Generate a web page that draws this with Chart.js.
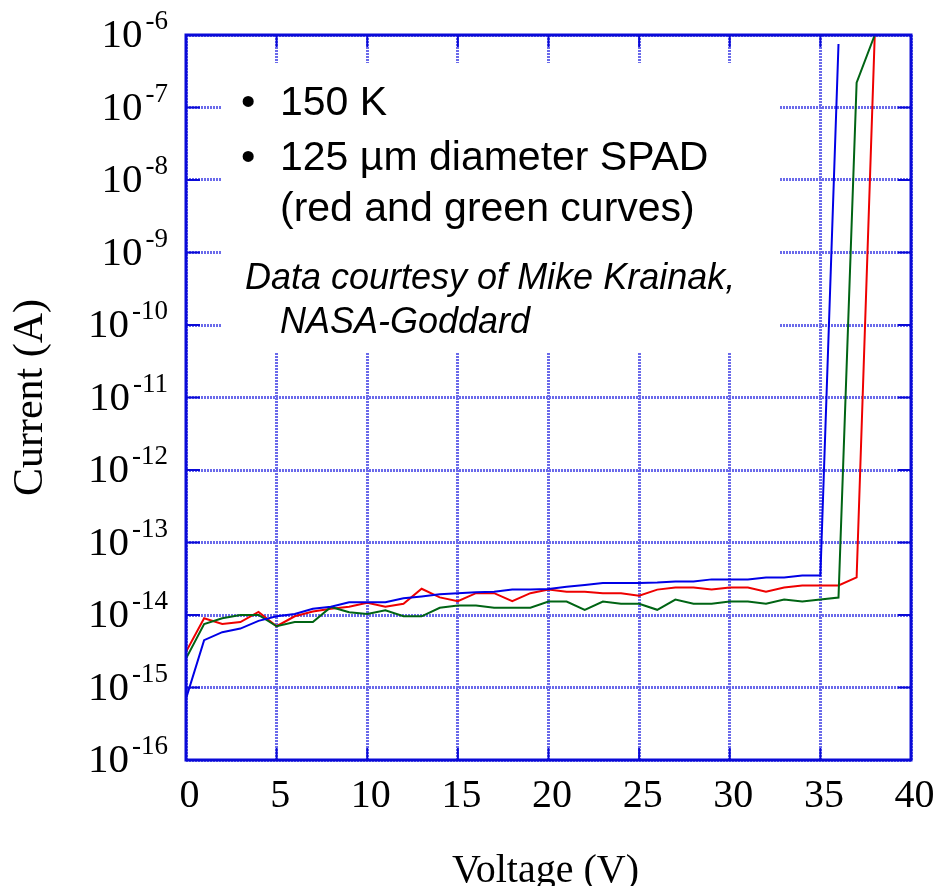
<!DOCTYPE html>
<html><head><meta charset="utf-8">
<script src="https://cdn.jsdelivr.net/npm/chart.js@4/dist/chart.umd.min.js"></script>
<style>html,body{margin:0;padding:0;background:#fff}#wrap{width:935px;height:886px}</style>
</head><body><div id="wrap"><canvas id="c" width="935" height="886"></canvas></div>
<script>
// ---- data ----
const voltage = [0,1,2,3,4,5,6,7,8,9,10,11,12,13,14,15,16,17,18,19,20,21,22,23,24,25,26,27,28,29,30,31,32,33,34,35,36,37,38];
const redCurrent = [3.1e-15,9e-15,7.5e-15,8e-15,1.1e-14,7e-15,9.6e-15,1.12e-14,1.22e-14,1.3e-14,1.47e-14,1.3e-14,1.43e-14,2.3e-14,1.75e-14,1.55e-14,2.0e-14,2.0e-14,1.55e-14,2.0e-14,2.24e-14,2.1e-14,2.1e-14,2.0e-14,2.0e-14,1.85e-14,2.24e-14,2.4e-14,2.4e-14,2.24e-14,2.4e-14,2.4e-14,2.1e-14,2.4e-14,2.55e-14,2.55e-14,2.55e-14,3.3e-14,1e-6];
const greenCurrent = [2.5e-15,7.5e-15,9e-15,1e-14,1e-14,7e-15,8e-15,8e-15,1.29e-14,1.09e-14,1.03e-14,1.16e-14,9.6e-15,9.6e-15,1.26e-14,1.35e-14,1.35e-14,1.26e-14,1.26e-14,1.26e-14,1.53e-14,1.53e-14,1.18e-14,1.53e-14,1.43e-14,1.43e-14,1.18e-14,1.63e-14,1.43e-14,1.43e-14,1.53e-14,1.53e-14,1.43e-14,1.63e-14,1.53e-14,1.63e-14,1.74e-14,2.2e-7,1e-6];
const blueCurrent = [7e-16,4.5e-15,5.8e-15,6.5e-15,8.3e-15,9.6e-15,1.03e-14,1.22e-14,1.3e-14,1.5e-14,1.5e-14,1.5e-14,1.7e-14,1.8e-14,1.93e-14,2.0e-14,2.06e-14,2.1e-14,2.24e-14,2.24e-14,2.29e-14,2.46e-14,2.6e-14,2.77e-14,2.77e-14,2.77e-14,2.8e-14,2.9e-14,2.9e-14,3.1e-14,3.1e-14,3.1e-14,3.3e-14,3.3e-14,3.5e-14,3.5e-14,7.5e-7];
const xTickValues = [0,5,10,15,20,25,30,35,40];
const yTickExponents = [-16,-15,-14,-13,-12,-11,-10,-9,-8,-7,-6];
const xTitle = 'Voltage (V)';
const yTitle = 'Current (A)';
const noteBullets = ['150 K', '125 µm diameter SPAD'];
const noteCont = '(red and green curves)';
const noteCredit = ['Data courtesy of Mike Krainak,', 'NASA-Goddard'];

const pts = arr => arr.map((v,i)=>({x:voltage[i], y:v}));
const SERIF = '"Liberation Serif","Times New Roman",serif';
const SANS = '"Liberation Sans",Arial,sans-serif';
const AXIS = '#0a0ad8';

const decorate = {
  id:'decorate',
  beforeDatasetsDraw(chart){
    const {ctx} = chart;
    ctx.save();
    ctx.fillStyle = '#fff';
    ctx.fillRect(222, 63, 557, 290);
    ctx.restore();
  },
  afterDatasetsDraw(chart){
    const {ctx, chartArea:a, scales:{x, y}} = chart;
    ctx.save();
    ctx.strokeStyle = AXIS; ctx.lineWidth = 2;
    const ln = (x1,y1,x2,y2)=>{ctx.beginPath();ctx.moveTo(x1,y1);ctx.lineTo(x2,y2);ctx.stroke();};
    yTickExponents.forEach(e=>{
      const py = y.getPixelForValue(Math.pow(10,e));
      ln(a.left, py, a.left+14, py);
      ln(a.right, py, a.right-13, py);
    });
    xTickValues.forEach(v=>{
      const px = x.getPixelForValue(v);
      ln(px, a.bottom, px, a.bottom-12);
      ln(px, a.top, px, a.top+12);
    });
    ctx.lineWidth = 3;
    ctx.strokeRect(a.left, a.top, a.right-a.left, a.bottom-a.top);
    ctx.restore();
  },
  afterDraw(chart){
    const {ctx, chartArea:a, scales:{x, y}} = chart;
    ctx.save();
    ctx.fillStyle = '#000';
    // y tick labels 10^n
    yTickExponents.forEach(e=>{
      const py = y.getPixelForValue(Math.pow(10,e));
      const sup = '-' + Math.abs(e);
      ctx.font = '27px ' + SERIF;
      ctx.textAlign = 'right'; ctx.textBaseline = 'alphabetic';
      const sw = ctx.measureText(sup).width;
      ctx.fillText(sup, 168, py - 6);
      ctx.font = '41px ' + SERIF;
      ctx.fillText('10', 168 - sw - 3, py + 12);
    });
    // x tick labels
    ctx.font = '40px ' + SERIF;
    ctx.textAlign = 'center';
    xTickValues.forEach(v=>{
      ctx.fillText(String(v), x.getPixelForValue(v) + 3.5, a.bottom + 47);
    });
    // axis titles
    ctx.fillText(xTitle, (a.left+a.right)/2 - 3, 882);
    ctx.save();
    ctx.translate(42, (a.top+a.bottom)/2);
    ctx.rotate(-Math.PI/2);
    ctx.font = '42px ' + SERIF;
    ctx.fillText(yTitle, 0, 0);
    ctx.restore();
    // annotation text
    ctx.textAlign = 'left';
    ctx.font = '41px ' + SANS;
    ctx.fillText('•', 241, 115);
    ctx.fillText(noteBullets[0], 280, 115);
    ctx.fillText('•', 241, 170);
    ctx.fillText(noteBullets[1], 280, 170);
    ctx.fillText(noteCont, 280, 221);
    ctx.font = 'italic 36px ' + SANS;
    ctx.fillText(noteCredit[0], 245, 289);
    ctx.fillText(noteCredit[1], 280, 333);
    ctx.restore();
  }
};

new Chart(document.getElementById('c'), {
  type: 'line',
  data: {
    datasets: [
      {label:'blue', data: pts(blueCurrent), borderColor:'#0000e6', borderWidth:2, pointRadius:0, tension:0, fill:false},
      {label:'green', data: pts(greenCurrent), borderColor:'#006414', borderWidth:2, pointRadius:0, tension:0, fill:false},
      {label:'red', data: pts(redCurrent), borderColor:'#ee0000', borderWidth:2, pointRadius:0, tension:0, fill:false}
    ]
  },
  options: {
    responsive:false, animation:false, devicePixelRatio:1,
    layout:{padding:{left:0, top:35, right:24, bottom:0}},
    plugins:{legend:{display:false}, tooltip:{enabled:false}},
    scales:{
      x:{
        type:'linear', min:0, max:40,
        afterBuildTicks: s => { s.ticks = xTickValues.map(v=>({value:v})); },
        afterFit: s => { s.height = 126; },
        grid:{color:'#6a6aea', lineWidth:3, drawTicks:false},
        border:{display:false, dash:[2,1]},
        ticks:{display:false}
      },
      y:{
        type:'logarithmic', min:1e-16, max:1e-6,
        afterBuildTicks: s => { s.ticks = yTickExponents.map(e=>({value:Math.pow(10,e)})); },
        afterFit: s => { s.width = 186; },
        grid:{color:'#6a6aea', lineWidth:3, drawTicks:false},
        border:{display:false, dash:[2,1]},
        ticks:{display:false}
      }
    }
  },
  plugins:[decorate]
});
</script></body></html>
